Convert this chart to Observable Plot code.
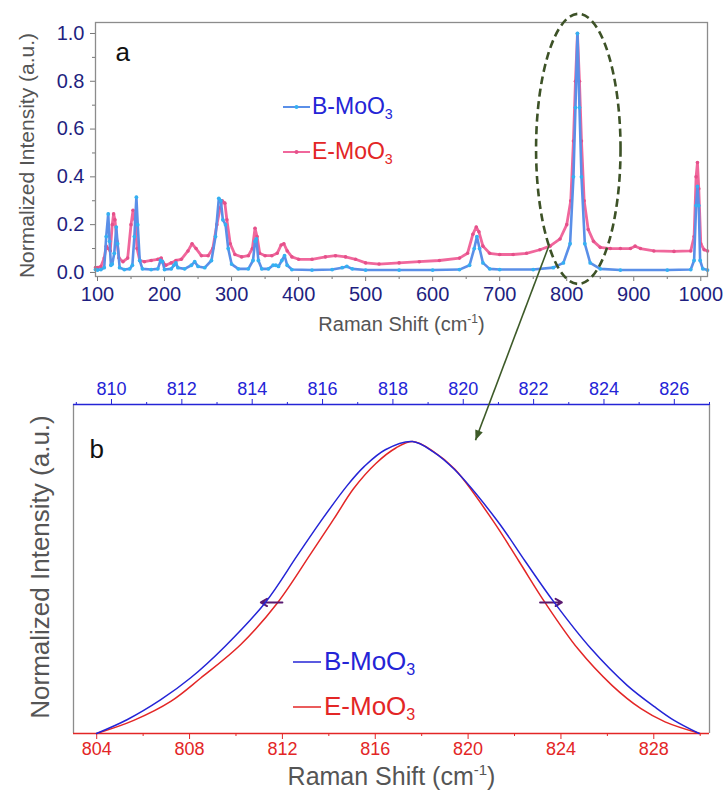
<!DOCTYPE html>
<html><head><meta charset="utf-8">
<script src="https://cdn.jsdelivr.net/npm/d3@7"></script>
<script src="https://cdn.jsdelivr.net/npm/@observablehq/plot@0.6"></script>
<style>
body{margin:0;background:#fff;}
#wrap{position:relative;width:728px;height:796px;overflow:hidden;font-family:"Liberation Sans",Arial,sans-serif;}
#wrap > svg{position:absolute;left:0;}
</style></head><body><div id="wrap"></div><script>
// ---------- Panel a : Raman spectra ----------
const bShift = [97,100,105,110,113,116,118,120,122,125,128,130,133,140,148,152,155,158,160,163,167,180,190,194,197,200,210,214,217,220,230,240,245,250,260,270,276,281,284,287,291,295,300,310,325,332,335,337,340,345,355,362,366,370,375,379,383,390,420,450,465,472,480,500,550,600,640,655,662,666,670,675,685,700,750,780,795,805,810,813,816,819,822,827,835,850,880,950,985,990,993,995,997,999,1003,1010];
const bIntensity = [0.012,0.01,0.012,0.02,0.15,0.245,0.13,0.03,0.035,0.08,0.19,0.12,0.02,0.012,0.015,0.03,0.15,0.315,0.2,0.05,0.015,0.012,0.015,0.05,0.045,0.012,0.015,0.03,0.04,0.02,0.015,0.03,0.045,0.025,0.02,0.05,0.15,0.31,0.3,0.22,0.2,0.1,0.035,0.015,0.015,0.05,0.13,0.14,0.05,0.015,0.015,0.03,0.03,0.025,0.05,0.07,0.03,0.012,0.01,0.012,0.02,0.025,0.015,0.01,0.01,0.01,0.012,0.03,0.1,0.15,0.1,0.04,0.015,0.012,0.012,0.02,0.04,0.12,0.4,0.69,1.0,0.69,0.4,0.12,0.04,0.015,0.01,0.01,0.012,0.05,0.28,0.36,0.28,0.05,0.015,0.01];
const eShift = [97,100,105,110,113,116,119,122,124,126,129,132,138,145,150,153,156,159,163,170,180,190,195,198,202,210,217,225,235,241,247,255,265,272,278,283,286,290,293,298,305,315,325,331,335,338,342,350,360,368,374,378,383,390,400,420,440,455,470,485,500,520,550,580,610,640,652,660,665,669,675,685,700,720,740,760,775,790,800,806,810,813,816,819,822,826,832,840,850,865,880,895,902,910,930,960,985,990,993,995,997,1000,1005,1010];
const eIntensity = [0.02,0.02,0.025,0.06,0.11,0.1,0.09,0.2,0.245,0.22,0.13,0.06,0.045,0.06,0.2,0.26,0.22,0.1,0.05,0.045,0.05,0.055,0.06,0.04,0.03,0.04,0.05,0.055,0.09,0.12,0.1,0.07,0.07,0.1,0.2,0.27,0.3,0.29,0.22,0.12,0.075,0.065,0.07,0.1,0.185,0.15,0.08,0.07,0.07,0.08,0.115,0.12,0.09,0.065,0.055,0.055,0.065,0.07,0.065,0.055,0.04,0.035,0.04,0.045,0.05,0.06,0.08,0.16,0.19,0.17,0.11,0.08,0.075,0.075,0.08,0.095,0.11,0.14,0.2,0.3,0.55,0.8,1.0,0.8,0.55,0.3,0.18,0.13,0.105,0.1,0.1,0.1,0.11,0.1,0.09,0.088,0.09,0.15,0.4,0.46,0.35,0.12,0.095,0.09];
const aXTicks = [100,200,300,400,500,600,700,800,900,1000];
const aXMinor = [150,250,350,450,550,650,750,850,950];
const aYTicks = [0,0.2,0.4,0.6,0.8,1.0];
const aYMinor = [0.1,0.3,0.5,0.7,0.9];
const seriesNames = ["B-MoO3","E-MoO3"];

// ---------- Panel b : fitted main peak ----------
const bFitShift = [809.574,810.455,811.392,812.244,813.239,814.375,815.284,815.938,816.705,817.188,817.784,818.551,819.148,819.744,820.966,821.761,822.585,823.636,824.659,825.455,825.994,826.705];
const bFitIntensity = [0,0.048,0.115,0.19,0.3,0.449,0.61,0.725,0.85,0.915,0.972,1.0,0.965,0.905,0.729,0.59,0.449,0.29,0.165,0.09,0.045,0];
const eFitShift = [804.0,805.595,807.19,808.483,810.207,811.802,813.224,814.216,815.078,816.026,816.888,817.621,818.526,819.431,821.069,822.19,823.31,824.733,826.198,827.448,828.483,829.991];
const eFitIntensity = [0,0.045,0.11,0.19,0.305,0.449,0.616,0.735,0.84,0.925,0.978,1.0,0.965,0.905,0.729,0.59,0.449,0.29,0.165,0.085,0.04,0];
const bTopTicks = [810,812,814,816,818,820,822,824,826];
const bTopMinor = [809,811,813,815,817,819,821,823,825,827];
const bBottomTicks = [804,808,812,816,820,824,828];
const bBottomMinor = [806,810,814,818,822,826,830];
// FWHM markers (bottom-axis units)
const fwhmFrom = [812.0, 823.1];
const fwhmTo = [811.07, 824.04];
const fwhmLevel = 0.449;

const FONT = '"Liberation Sans", Arial, sans-serif';
const NAVY = "#1f1f80", GRAY = "#555", FRAME = "#8c8c8c";
const BLUE = "#2424d6", RED = "#e32626";
const B_LINE = "#5a8fe8", B_DOT = "#34b0f2", E_LINE = "#f0679c", E_DOT = "#e5508a";

const bData = bShift.map((x, i) => ({x, y: bIntensity[i]}));
const eData = eShift.map((x, i) => ({x, y: eIntensity[i]}));
const bFit = bFitShift.map((x, i) => ({x, y: bFitIntensity[i]}));
const eFit = eFitShift.map((x, i) => ({x, y: eFitIntensity[i]}));
const fwhm = fwhmFrom.map((x1, i) => ({x1, x2: fwhmTo[i], y: fwhmLevel}));

const W = 728;
const wrap = document.getElementById("wrap");

const plotA = Plot.plot({
  width: W, height: 330,
  marginTop: 22, marginBottom: 54, marginLeft: 95, marginRight: 21,
  style: {background: "transparent", fontFamily: FONT, overflow: "visible"},
  x: {domain: [97, 1010]},
  y: {domain: [-0.017, 1.046]},
  marks: [
    Plot.axisY({ticks: aYTicks, tickSize: 5, tickPadding: 6, tickFormat: d3.format(".1f"), fontSize: 20, fill: NAVY, stroke: "#777", label: null}),
    Plot.axisY({ticks: aYMinor, tickSize: 3, tickFormat: () => "", stroke: "#777", label: null}),
    Plot.axisX({ticks: aXTicks, tickSize: 5, tickPadding: 5, tickFormat: d3.format("d"), fontSize: 20, fill: NAVY, stroke: "#777", label: null}),
    Plot.axisX({ticks: aXMinor, tickSize: 3, tickFormat: () => "", stroke: "#777", label: null}),
    Plot.line(eData, {x: "x", y: "y", stroke: E_LINE, strokeWidth: 2.8}),
    Plot.dot(eData, {x: "x", y: "y", r: 1.8, fill: E_DOT}),
    Plot.line(bData, {x: "x", y: "y", stroke: B_LINE, strokeWidth: 2.6}),
    Plot.dot(bData, {x: "x", y: "y", r: 1.9, fill: B_DOT}),
    Plot.frame({stroke: FRAME, strokeWidth: 1.3}),
    Plot.text(["a"], {frameAnchor: "top-left", dx: 20, dy: 20, fontSize: 26, textAnchor: "start", fill: "#111"}),
    Plot.text(["Normalized Intensity (a.u.)"], {frameAnchor: "left", textAnchor: "middle", rotate: -90, dx: -68, dy: 6, fontSize: 21, fill: GRAY}),
    Plot.text(["Raman Shift (cm-1)"], {frameAnchor: "bottom", dy: 54, fontSize: 20, fill: GRAY})
  ]
});

const redDomain = [803, 830.4];
const blueDomain = [808.92, 827];
const yB = [0, 1.127];
const commonB = {
  width: W, height: 456,
  marginTop: 64, marginBottom: 63, marginLeft: 73, marginRight: 19,
  style: {background: "transparent", fontFamily: FONT, overflow: "visible"}
};

const plotB = Plot.plot({
  ...commonB,
  x: {domain: redDomain},
  y: {domain: yB, axis: null},
  marks: [
    Plot.ruleX(redDomain, {stroke: FRAME, strokeWidth: 1.3}),
    Plot.axisX({ticks: bBottomTicks, anchor: "bottom", tickSize: 6, tickPadding: 3, fontSize: 18, fill: RED, stroke: RED, label: null}),
    Plot.axisX({ticks: bBottomMinor, anchor: "bottom", tickSize: 3, tickFormat: () => "", stroke: RED, label: null}),
    Plot.ruleY([yB[0]], {stroke: RED, strokeWidth: 1.6}),
    Plot.line(eFit, {x: "x", y: "y", stroke: RED, strokeWidth: 1.5, curve: "catmull-rom"}),
    Plot.arrow(fwhm, {x1: "x1", x2: "x2", y1: "y", y2: "y", stroke: "#5a1a70", strokeWidth: 2, headLength: 6}),
    Plot.text(["b"], {frameAnchor: "top-left", dx: 16, dy: 35, fontSize: 26, textAnchor: "start", fill: "#111"}),
    Plot.text(["Normalized Intensity (a.u.)"], {frameAnchor: "left", textAnchor: "middle", rotate: -90, dx: -33, dy: -2, fontSize: 26, fill: GRAY}),
    Plot.text(["Raman Shift (cm-1)"], {frameAnchor: "bottom", dy: 51, fontSize: 25, fill: GRAY})
  ]
});

const plotBt = Plot.plot({
  ...commonB,
  x: {domain: blueDomain},
  y: {domain: yB, axis: null},
  marks: [
    Plot.ruleY([yB[1]], {stroke: BLUE, strokeWidth: 1.6}),
    Plot.axisX({ticks: bTopTicks, anchor: "top", tickSize: 6, tickPadding: 4, fontSize: 18, fill: BLUE, stroke: BLUE, label: null}),
    Plot.axisX({ticks: bTopMinor, anchor: "top", tickSize: 3, tickFormat: () => "", stroke: BLUE, label: null}),
    Plot.line(bFit, {x: "x", y: "y", stroke: BLUE, strokeWidth: 1.5, curve: "catmull-rom"})
  ]
});

plotA.style.top = "0px";
plotB.style.top = "340px";
plotBt.style.top = "340px";
wrap.append(plotA, plotB, plotBt);

// superscript for cm-1
function fixTitles(svg, raise) {
  d3.select(svg).selectAll("text").each(function() {
    if (this.textContent === "Raman Shift (cm-1)") {
      const t = d3.select(this);
      t.text("Raman Shift (cm");
      t.append("tspan").attr("dy", -raise).attr("font-size", "0.6em").text("-1");
      t.append("tspan").attr("dy", raise).text(")");
    }
  });
}
fixTitles(plotA, 8);
fixTitles(plotB, 10);

// ---------- overlay: ellipse, arrow, legends ----------
const xA = plotA.scale("x").apply, yAf = plotA.scale("y").apply;
const xBr = plotB.scale("x").apply, yBf = plotB.scale("y").apply;
const ov = d3.create("svg").attr("width", W).attr("height", 796).style("top", "0px").style("overflow", "visible");

const ell = {cx: 818, cy: 0.515, hw: 63, hh: 0.565};
ov.append("ellipse")
  .attr("cx", xA(ell.cx)).attr("cy", yAf(ell.cy))
  .attr("rx", xA(ell.cx + ell.hw) - xA(ell.cx))
  .attr("ry", yAf(ell.cy - ell.hh) - yAf(ell.cy))
  .attr("fill", "none").attr("stroke", "#3d5227").attr("stroke-width", 2.6).attr("stroke-dasharray", "8,4.5");

const arrowFrom = {x: 774.6, y: 0.113}, arrowTo = {x: 820.34, y: 1.003};
const ax1 = xA(arrowFrom.x), ay1 = yAf(arrowFrom.y);
const ax2 = xBr(arrowTo.x), ay2 = 340 + yBf(arrowTo.y);
ov.append("line").attr("x1", ax1).attr("y1", ay1).attr("x2", ax2).attr("y2", ay2)
  .attr("stroke", "#3d5a28").attr("stroke-width", 1.6);
{
  const ang = Math.atan2(ay2 - ay1, ax2 - ax1), L = 10, Wd = 4;
  const bx = ax2 - L * Math.cos(ang), by = ay2 - L * Math.sin(ang);
  const px = -Math.sin(ang) * Wd, py = Math.cos(ang) * Wd;
  ov.append("path").attr("d", `M${ax2},${ay2}L${bx + px},${by + py}L${bx - px},${by - py}Z`).attr("fill", "#3d5a28");
}

function legendText(g, x, y, name, color, size) {
  const t = g.append("text").attr("x", x).attr("y", y).attr("fill", color)
    .attr("font-size", size).attr("font-family", FONT).attr("dominant-baseline", "middle");
  t.text(name.slice(0, -1));
  t.append("tspan").attr("dy", size * 0.32).attr("font-size", size * 0.62).text(name.slice(-1));
}
// panel a legend
const la = ov.append("g");
[[107, B_LINE, B_DOT, BLUE], [152, E_LINE, E_DOT, RED]].forEach(([y, lc, dc, tc], i) => {
  la.append("line").attr("x1", 283).attr("x2", 310).attr("y1", y).attr("y2", y).attr("stroke", lc).attr("stroke-width", 2);
  la.append("circle").attr("cx", 296.5).attr("cy", y).attr("r", 2).attr("fill", dc);
  legendText(la, 312, y + 1, seriesNames[i], tc, 23);
});
// panel b legend
const lb = ov.append("g");
[[662, BLUE], [707, RED]].forEach(([y, c], i) => {
  lb.append("line").attr("x1", 293).attr("x2", 321).attr("y1", y).attr("y2", y).attr("stroke", c).attr("stroke-width", 1.5);
  legendText(lb, 324, y + 1, seriesNames[i], c, 26);
});
wrap.append(ov.node());
</script></body></html>
